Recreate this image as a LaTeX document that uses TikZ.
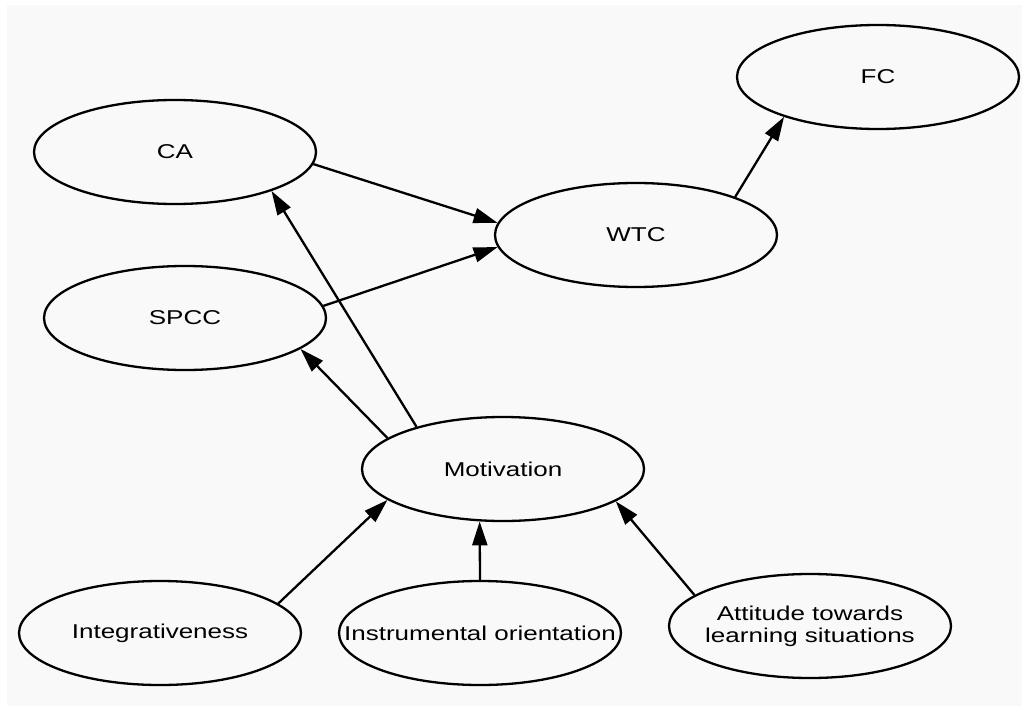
\documentclass[tikz,border=0pt]{standalone}
\usepackage{fontspec}
\setmainfont{Liberation Sans}[FakeStretch=1.3]
\usetikzlibrary{arrows.meta,shapes.geometric}
\definecolor{bgcol}{HTML}{F9F9F9}
\begin{document}
\begin{tikzpicture}[x=1pt,y=-1pt,
  ell/.style={draw=black,line width=2.3pt,ellipse,minimum width=282pt,minimum height=104pt,inner sep=0pt,
    font=\fontsize{20pt}{22pt}\selectfont,align=center},
  arr/.style={draw=black,line width=2.3pt,-{Triangle[length=24pt,width=15pt]}}]
\useasboundingbox (0,0) rectangle (1022,706);
\fill[white] (0,0) rectangle (1022,706);
\fill[bgcol] (7,5) rectangle (1022,706);
\node[ell] (FC) at (878,77) {FC};
\node[ell] (CA) at (175,152) {CA};
\node[ell] (WTC) at (636,235) {WTC};
\node[ell] (SPCC) at (185,318) {SPCC};
\node[ell] (MOT) at (503,469) {Motivation};
\node[ell] (INT) at (160,633) {\makebox[0pt]{Integrativeness}};
\node[ell] (INS) at (480,633) {\makebox[0pt]{Instrumental orientation}};
\node[ell] (ATT) at (810,626) {\makebox[0pt]{Attitude towards}\\\makebox[0pt]{learning situations}};
\draw[arr] (CA.-5) -- (WTC.175);
\draw[arr] (SPCC.5) -- (WTC.185);
\draw[arr] (WTC.21) -- (FC.203);
\draw[arr] (MOT.154) -- (CA.-22);
\draw[arr] (MOT.165) -- (SPCC.-15);
\draw[arr] (INT.14) -- (MOT.195);
\draw[arr] (INS.north) -- (MOT.246);
\draw[arr] (ATT.165) -- (MOT.-16);
\end{tikzpicture}
\end{document}
